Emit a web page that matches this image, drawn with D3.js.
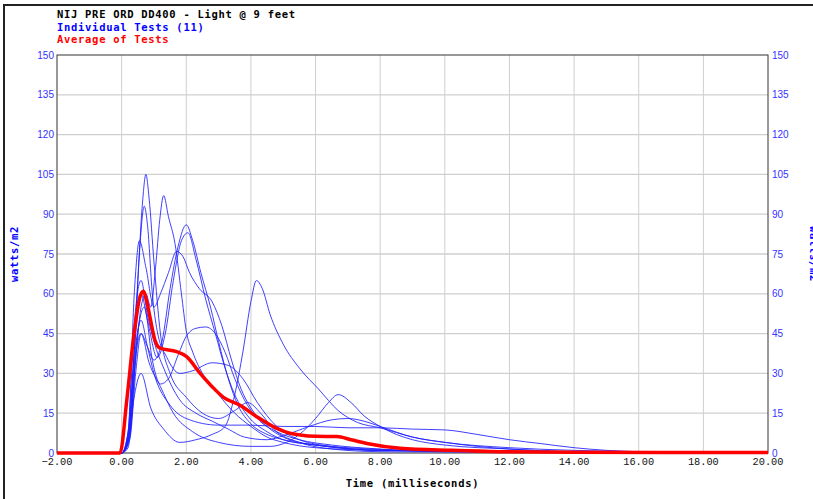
<!doctype html>
<html lang="en">
<head>
    <meta charset="utf-8">
    <script src="https://d3js.org/d3.v7.min.js"></script>
    <style>
        body { margin:0; background:#fff; }
        .title { font-family:"DejaVu Sans Mono", monospace; font-weight:bold; font-size:10.5px; letter-spacing:0.7px; }
        .ytick { font-family:"Liberation Sans", sans-serif; font-size:10px; fill:#3333ff; }
        .xtick { font-family:"Liberation Mono", monospace; font-size:10.3px; fill:#111; }
    </style>
    <title>NIJ PRE ORD DD400</title>
</head>
<body>
<div id="chart"></div>
<script>

    // individual tests, [time ms, watts/m2]
    var test01 = [[-2,0],[0,0],[0.15,2],[0.35,30],[0.5,65],[0.65,95],[0.75,105],[0.85,96],[1.0,72],[1.2,45],[1.5,30],[2.0,21],[2.5,15],[3.0,13],[3.5,16],[3.9,19],[4.3,15],[4.7,9],[5.5,4],[6.5,1.5],[8,0.5],[20,0]];
    var test02 = [[-2,0],[0,0],[0.2,5],[0.4,40],[0.55,75],[0.7,93],[0.8,86],[0.95,60],[1.1,46],[1.4,36],[1.8,30],[2.2,31],[2.8,34],[3.3,33],[3.75,28],[4.2,19],[4.8,10],[5.5,5],[6.5,2.5],[8,1],[20,0]];
    var test03 = [[-2,0],[0,0],[0.2,2],[0.4,30],[0.6,55],[0.75,60],[0.9,55],[1.05,70],[1.18,88],[1.3,97],[1.45,89],[1.65,79],[1.85,60],[2.0,46],[2.2,38],[2.5,30],[3.0,22],[3.5,15],[4.0,10],[4.5,6],[5,4],[6,2],[8,1],[20,0]];
    var test04 = [[-2,0],[0,0],[0.25,5],[0.45,32],[0.6,45],[0.8,40],[1.0,35],[1.25,42],[1.5,62],[1.75,78],[2.0,86],[2.2,80],[2.45,68],[2.75,55],[3.0,42],[3.3,28],[3.6,18],[4.0,11],[4.5,7],[5,5],[6,3],[7,2],[9,1],[20,0]];
    var test05 = [[-2,0],[0,0],[0.2,6],[0.4,40],[0.6,60],[0.8,50],[1.1,36],[1.35,45],[1.6,65],[1.85,80],[2.05,83],[2.3,73],[2.6,58],[2.9,45],[3.2,32],[3.5,22],[3.9,14],[4.5,8],[5,5],[6,3],[8,1],[20,0]];
    var test06 = [[-2,0],[0,0],[0.2,8],[0.4,62],[0.55,80],[0.75,70],[1.0,55],[1.2,60],[1.45,68],[1.7,76],[1.9,74],[2.1,68],[2.4,62],[2.8,57],[3.1,48],[3.4,35],[3.7,24],[4.0,17],[4.5,10],[5,6],[6,3],[8,1],[20,0]];
    var test07 = [[-2,0],[0,0],[0.2,4],[0.4,22],[0.6,30],[0.9,17],[1.3,9],[1.8,4],[2.3,5],[2.8,7],[3.2,10],[3.5,22],[3.75,38],[4.0,57],[4.17,65],[4.35,62],[4.6,52],[5.0,41],[5.5,32],[6.1,24],[6.7,16],[7.3,11.5],[8.0,9.5],[9,6],[10,4],[12,2],[14,1],[16,0.5],[20,0]];
    var test08 = [[-2,0],[0,0],[0.25,6],[0.45,40],[0.7,55],[0.95,35],[1.2,26],[1.45,28],[1.75,37],[2.0,44],[2.3,47],[2.6,47.5],[2.9,45],[3.2,38],[3.5,28],[3.8,20],[4.2,13],[4.8,8],[5.5,5],[6.5,3],[8,1.5],[10,0.5],[20,0]];
    var test09 = [[-2,0],[0,0],[0.25,8],[0.45,38],[0.6,45],[0.85,34],[1.2,25],[1.6,15],[2.2,8],[3.0,4],[4.0,2.5],[4.6,2.5],[5.0,3.5],[5.5,7],[6.0,13],[6.4,19],[6.7,22],[7.1,19],[7.5,14],[8.0,10],[8.5,7],[9,5],[10,3],[12,1.5],[14,0.5],[20,0]];
    var test10 = [[-2,0],[0,0],[0.2,8],[0.4,50],[0.6,65],[0.8,52],[1.0,42],[1.3,32],[1.8,20],[2.3,15],[2.8,12],[3.3,9],[3.8,6],[4.5,5],[5.0,6.5],[5.8,10],[6.5,12.5],[7.0,13],[7.5,12],[8.0,10],[9,6],[10,4],[11,2.5],[12,1.5],[14,0.5],[20,0]];
    var test11 = [[-2,0],[0,0],[0.25,10],[0.45,42],[0.6,50],[0.8,40],[1.0,30],[1.5,18],[2.0,13],[3.0,10.5],[4.0,10.5],[5.0,10],[6.0,10],[7.0,9.5],[8.0,9.5],[9,9],[10,8.7],[11,7],[12,5],[13,3.5],[14,2],[15,1],[16,0.5],[20,0]];

    var tests = [test01, test02, test03, test04, test05, test06, test07, test08, test09, test10, test11];

    // average of tests
    var average = [[-2,0],[-0.05,0],[0.16,20],[0.36,42.6],[0.57,59],[0.67,61],[0.78,57],[0.88,51],[1.03,42.6],[1.19,39.5],[1.7,38.2],[2.01,36.3],[2.43,30],[2.8,25],[3.15,21],[3.66,18],[4.18,13.7],[4.8,9.3],[5.2,7.5],[5.52,6.8],[6.0,6.3],[6.66,6.2],[7.1,5],[7.59,3.6],[8.62,1.8],[10.2,1],[11.7,0.5],[14,0.3],[20,0.2]];

    var xTicks = [-2, 0, 2, 4, 6, 8, 10, 12, 14, 16, 18, 20];
    var yTicks = [0, 15, 30, 45, 60, 75, 90, 105, 120, 135, 150];

    // plot area
    var plotLeft = 57, plotRight = 768, plotTop = 55, plotBottom = 453;

    var x = d3.scaleLinear().domain([-2, 20]).range([plotLeft, plotRight]);
    var y = d3.scaleLinear().domain([0, 150]).range([plotBottom, plotTop]);

    var svg = d3.select("#chart").append("svg")
        .attr("width", 813)
        .attr("height", 499);

    // outer frame
    svg.append("rect")
        .attr("x", 4).attr("y", 5)
        .attr("width", 900).attr("height", 600)
        .attr("fill", "none")
        .attr("stroke", "#222")
        .attr("stroke-width", 2);

    // grid
    svg.selectAll(".hgrid")
        .data(yTicks.slice(1, -1))
        .enter().append("line")
        .attr("x1", plotLeft).attr("x2", plotRight)
        .attr("y1", function(d) { return y(d); })
        .attr("y2", function(d) { return y(d); })
        .attr("stroke", "#cfcfcf")
        .attr("stroke-width", 1.3);

    svg.selectAll(".vgrid")
        .data(xTicks.slice(1, -1))
        .enter().append("line")
        .attr("y1", plotTop).attr("y2", plotBottom)
        .attr("x1", function(d) { return x(d); })
        .attr("x2", function(d) { return x(d); })
        .attr("stroke", "#cfcfcf")
        .attr("stroke-width", 1);

    // plot border
    svg.append("rect")
        .attr("x", plotLeft).attr("y", plotTop)
        .attr("width", plotRight - plotLeft).attr("height", plotBottom - plotTop)
        .attr("fill", "none")
        .attr("stroke", "#333")
        .attr("stroke-width", 1);

    // y axis labels, both sides
    svg.selectAll(".yl")
        .data(yTicks)
        .enter().append("text")
        .attr("class", "ytick")
        .attr("x", plotLeft - 3)
        .attr("y", function(d) { return y(d) + 3.5; })
        .attr("text-anchor", "end")
        .text(function(d) { return d; });

    svg.selectAll(".yr")
        .data(yTicks)
        .enter().append("text")
        .attr("class", "ytick")
        .attr("x", plotRight + 4)
        .attr("y", function(d) { return y(d) + 3.5; })
        .text(function(d) { return d; });

    // x axis labels
    svg.selectAll(".xl")
        .data(xTicks)
        .enter().append("text")
        .attr("class", "xtick")
        .attr("x", function(d) { return x(d); })
        .attr("y", plotBottom + 12)
        .attr("text-anchor", "middle")
        .text(function(d) { return d3.format(".2f")(d); });

    // lines
    var line = d3.line()
        .x(function(d) { return x(d[0]); })
        .y(function(d) { return y(d[1]); })
        .curve(d3.curveMonotoneX);

    svg.selectAll(".test")
        .data(tests)
        .enter().append("path")
        .attr("d", line)
        .attr("fill", "none")
        .attr("stroke", "#1f1fff")
        .attr("stroke-opacity", 0.85)
        .attr("stroke-width", 1);

    svg.append("path")
        .datum(average)
        .attr("d", line)
        .attr("fill", "none")
        .attr("stroke", "#ff0000")
        .attr("stroke-width", 3.5)
        .attr("stroke-linejoin", "round");

    // titles
    svg.append("text").attr("class", "title").attr("x", plotLeft).attr("y", 18).attr("fill", "#000")
        .text("NIJ PRE ORD DD400 - Light @ 9 feet");
    svg.append("text").attr("class", "title").attr("x", plotLeft).attr("y", 30.5).attr("fill", "#0000ff")
        .text("Individual Tests (11)");
    svg.append("text").attr("class", "title").attr("x", plotLeft).attr("y", 43).attr("fill", "#ff0000")
        .text("Average of Tests");

    svg.append("text").attr("class", "title")
        .attr("x", (plotLeft + plotRight) / 2).attr("y", 487)
        .attr("text-anchor", "middle").attr("fill", "#000")
        .text("Time (milliseconds)");

    svg.append("text").attr("class", "title")
        .attr("transform", "translate(18," + (plotTop + plotBottom) / 2 + ") rotate(-90)")
        .attr("text-anchor", "middle").attr("fill", "#0000ff")
        .text("watts/m2");

    svg.append("text").attr("class", "title")
        .attr("transform", "translate(810," + (plotTop + plotBottom) / 2 + ") rotate(90)")
        .attr("text-anchor", "middle").attr("fill", "#0000ff")
        .text("watts/m2");

</script>
</body>
</html>
